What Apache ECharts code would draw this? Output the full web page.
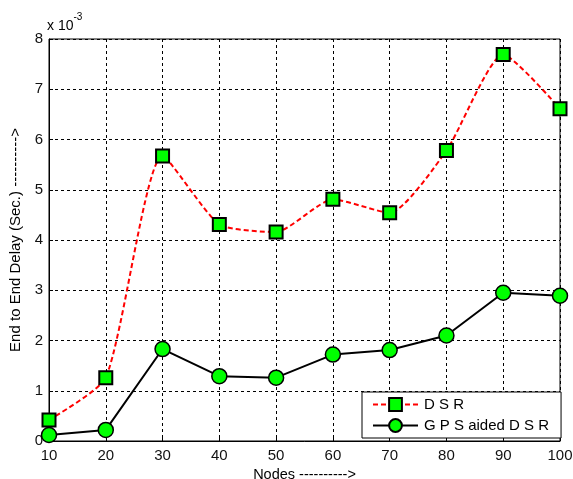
<!DOCTYPE html>
<html>
<head>
<meta charset="utf-8">
<script src="https://cdn.jsdelivr.net/npm/echarts@6/dist/echarts.min.js"></script>
<style>
  html, body { margin: 0; padding: 0; background: #fff; }
  #chart { width: 573px; height: 479px; }
</style>
</head>
<body>
<div id="chart"></div>
<script>
// Number of nodes in the network
const nodes = [10, 20, 30, 40, 50, 60, 70, 80, 90, 100];
// End to end delay, in units of 1e-3 seconds
const dsrDelay = [0.42, 1.26, 5.67, 4.31, 4.16, 4.81, 4.54, 5.78, 7.69, 6.61];
const gpsDsrDelay = [0.12, 0.22, 1.83, 1.29, 1.26, 1.72, 1.81, 2.10, 2.95, 2.89];
const seriesNames = ['D S R', 'G P S aided D S R'];

const font = 'Liberation Sans, Arial, sans-serif';
const pair = (xs, ys) => xs.map((x, i) => [x, ys[i]]);

const chart = echarts.init(document.getElementById('chart'), null, { renderer: 'canvas' });

chart.setOption({
  animation: false,
  backgroundColor: '#ffffff',
  grid: {
    left: 49, top: 39, right: 13, bottom: 38,
    outerBoundsMode: 'none',
    containLabel: false,
    show: true, borderColor: '#000', borderWidth: 1, backgroundColor: 'transparent'
  },
  xAxis: {
    type: 'value', min: 10, max: 100, interval: 10,
    name: 'Nodes ---------->', nameLocation: 'middle', nameGap: 25,
    nameTextStyle: { fontFamily: font, fontSize: 14.5, color: '#000' },
    axisLine: { show: true, lineStyle: { color: '#000', width: 1 } },
    axisTick: { show: true, inside: true, length: 4, lineStyle: { color: '#000' } },
    axisLabel: { fontFamily: font, fontSize: 15, color: '#111', margin: 7 },
    splitLine: { show: true, lineStyle: { color: '#000', type: [3, 3], width: 1 } }
  },
  yAxis: {
    type: 'value', min: 0, max: 8, interval: 1,
    name: 'End to End Delay (Sec.) ---------->', nameLocation: 'middle', nameGap: 20,
    nameTextStyle: { fontFamily: font, fontSize: 15, color: '#000' },
    axisLine: { show: true, lineStyle: { color: '#000', width: 1 } },
    axisTick: { show: true, inside: true, length: 4, lineStyle: { color: '#000' } },
    axisLabel: { fontFamily: font, fontSize: 15, color: '#111', margin: 6 },
    splitLine: { show: true, lineStyle: { color: '#000', type: [3, 3], width: 1 } }
  },
  legend: {
    orient: 'vertical',
    left: 362, top: 392,
    padding: [5, 12, 5, 10],
    itemGap: 6,
    itemWidth: 45, itemHeight: 16,
    backgroundColor: '#fff',
    borderColor: '#000', borderWidth: 1, borderRadius: 0,
    textStyle: { fontFamily: font, fontSize: 15, color: '#000', padding: [0, 0, 0, 1] },
    data: seriesNames
  },
  graphic: [{
    type: 'text', left: 47, top: 12,
    style: {
      text: '{b|x 10}{s|-3}',
      rich: {
        b: { fontFamily: font, fontSize: 14, fill: '#000', padding: [7, 0, 0, 0] },
        s: { fontFamily: font, fontSize: 10, fill: '#000', verticalAlign: 'top', padding: [0, 0, 9, 0] }
      }
    }
  }],
  series: [
    {
      name: seriesNames[0], type: 'line',
      data: pair(nodes, dsrDelay),
      smooth: 0.2,
      symbol: 'rect', symbolSize: 13,
      lineStyle: { color: '#ff0000', width: 2, type: [5, 3] },
      itemStyle: { color: '#00ff00', borderColor: '#000', borderWidth: 2 },
      z: 3
    },
    {
      name: seriesNames[1], type: 'line',
      data: pair(nodes, gpsDsrDelay),
      symbol: 'circle', symbolSize: 15,
      lineStyle: { color: '#000', width: 2 },
      itemStyle: { color: '#00ff00', borderColor: '#000', borderWidth: 1.5 },
      z: 3
    }
  ]
});
</script>
</body>
</html>
